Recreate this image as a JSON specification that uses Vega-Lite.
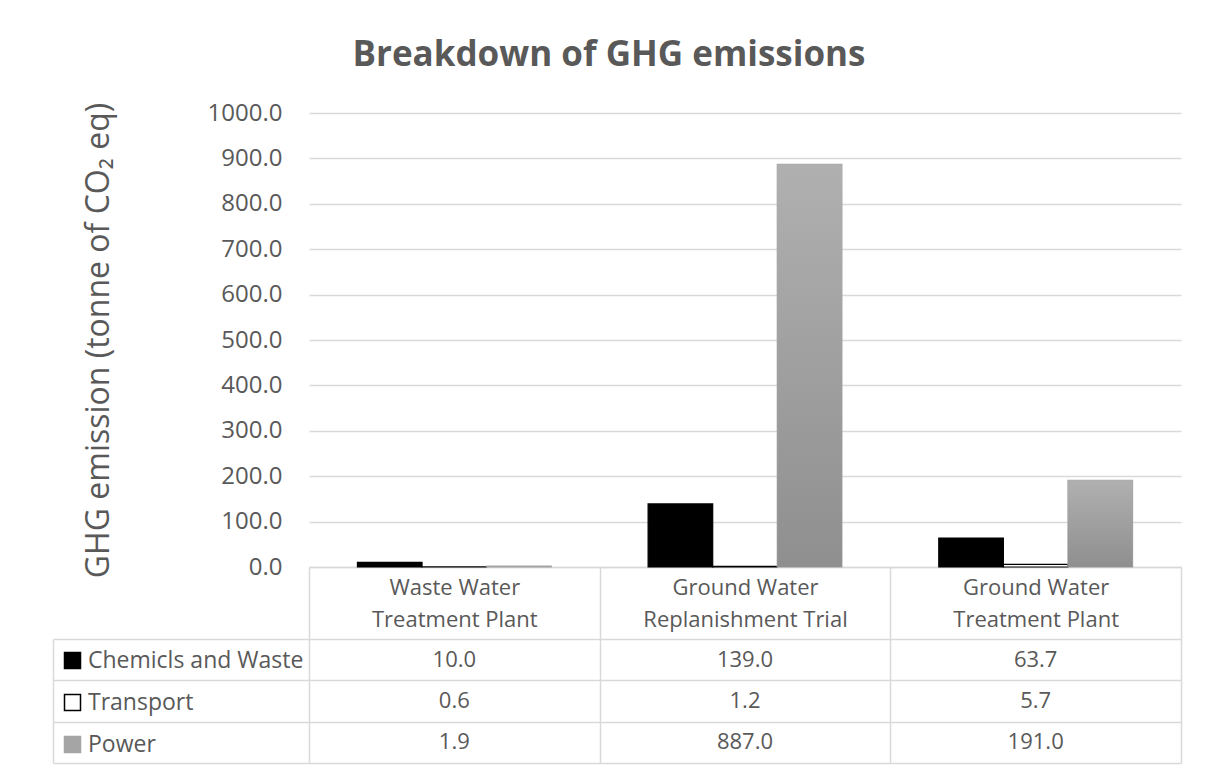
{
  "$schema": "https://vega.github.io/schema/vega-lite/v6.json",
  "width": 872,
  "height": 454,
  "autosize": {"type": "none"},
  "padding": {"left": 309, "top": 113, "right": 28, "bottom": 205},
  "title": {
    "text": "Breakdown of GHG emissions",
    "fontSize": 35,
    "fontWeight": "bold",
    "color": "#595959",
    "font": "Open Sans",
    "anchor": "middle",
    "frame": "group",
    "dx": -136,
    "offset": 28
  },
  "config": {
    "font": "Open Sans",
    "view": {"stroke": null},
    "axis": {"labelColor": "#595959", "titleColor": "#595959", "labelFont": "Open Sans", "titleFont": "Open Sans"},
    "legend": {"labelFont": "Open Sans"}
  },
  "data": {
    "values": [
      {"category": "Waste Water Treatment Plant", "series": "Chemicls and Waste", "value": 10.0},
      {"category": "Waste Water Treatment Plant", "series": "Transport", "value": 0.6},
      {"category": "Waste Water Treatment Plant", "series": "Power", "value": 1.9},
      {"category": "Ground Water Replanishment Trial", "series": "Chemicls and Waste", "value": 139.0},
      {"category": "Ground Water Replanishment Trial", "series": "Transport", "value": 1.2},
      {"category": "Ground Water Replanishment Trial", "series": "Power", "value": 887.0},
      {"category": "Ground Water Treatment Plant", "series": "Chemicls and Waste", "value": 63.7},
      {"category": "Ground Water Treatment Plant", "series": "Transport", "value": 5.7},
      {"category": "Ground Water Treatment Plant", "series": "Power", "value": 191.0}
    ]
  },
  "resolve": {"scale": {"y": "independent"}, "axis": {"y": "independent"}},
  "layer": [
    {
      "mark": {"type": "bar", "strokeWidth": 1.2},
      "encoding": {
        "x": {
          "field": "category",
          "type": "nominal",
          "sort": ["Waste Water Treatment Plant", "Ground Water Replanishment Trial", "Ground Water Treatment Plant"],
          "scale": {"paddingInner": 0, "paddingOuter": 0},
          "axis": {
            "title": null,
            "orient": "bottom",
            "domain": true,
            "domainColor": "#D9D9D9",
            "domainWidth": 1.5,
            "ticks": true,
            "tickBand": "extent",
            "tickSize": 196,
            "tickColor": "#D9D9D9",
            "tickWidth": 1.5,
            "grid": false,
            "labelExpr": "[join(slice(split(datum.label, ' '), 0, 2), ' '), join(slice(split(datum.label, ' '), 2), ' ')]",
            "labelFontSize": 22,
            "labelLineHeight": 32,
            "labelBaseline": "middle",
            "labelAlign": "center",
            "labelPadding": -176,
            "labelAngle": 0,
            "labelOverlap": false,
            "labelBound": false,
            "labelLimit": 400
          }
        },
        "xOffset": {
          "field": "series",
          "type": "nominal",
          "sort": ["Chemicls and Waste", "Transport", "Power"],
          "scale": {"paddingInner": 0, "paddingOuter": 0.75}
        },
        "y": {
          "field": "value",
          "type": "quantitative",
          "scale": {"domain": [0, 1000], "nice": false},
          "axis": {
            "title": "GHG emission (tonne of CO₂ eq)",
            "titleFontSize": 32,
            "titleFontWeight": "normal",
            "titlePadding": 92,
            "values": [0, 100, 200, 300, 400, 500, 600, 700, 800, 900, 1000],
            "format": ".1f",
            "labelFontSize": 24,
            "labelPadding": 27,
            "ticks": false,
            "domain": false,
            "grid": true,
            "gridColor": "#D9D9D9",
            "gridWidth": 1.5
          }
        },
        "fill": {
          "field": "series",
          "type": "nominal",
          "sort": ["Chemicls and Waste", "Transport", "Power"],
          "scale": {"domain": ["Chemicls and Waste", "Transport", "Power"], "range": ["#000000", "#FFFFFF", "#A5A5A5"]},
          "legend": {
            "title": null,
            "orient": "none",
            "legendX": -248,
            "legendY": 536,
            "direction": "vertical",
            "symbolType": "square",
            "symbolSize": 256,
            "symbolStrokeWidth": 1.5,
            "labelFontSize": 23,
            "labelColor": "#595959",
            "labelOffset": 4,
            "labelLimit": 400,
            "rowPadding": 18,
            "padding": 0
          }
        },
        "stroke": {
          "field": "series",
          "type": "nominal",
          "sort": ["Chemicls and Waste", "Transport", "Power"],
          "scale": {"domain": ["Chemicls and Waste", "Transport", "Power"], "range": ["#000000", "#000000", "#A5A5A5"]},
          "legend": {
            "title": null,
            "orient": "none",
            "legendX": -248,
            "legendY": 536,
            "direction": "vertical",
            "symbolType": "square",
            "symbolSize": 256,
            "symbolStrokeWidth": 1.5,
            "labelFontSize": 23,
            "labelColor": "#595959",
            "labelOffset": 4,
            "labelLimit": 400,
            "rowPadding": 18,
            "padding": 0
          }
        }
      }
    },
    {
      "transform": [{"filter": "datum.series === 'Power'"}],
      "mark": {
        "type": "bar",
        "color": {
          "gradient": "linear",
          "x1": 0, "y1": 0, "x2": 0, "y2": 1,
          "stops": [{"offset": 0, "color": "#B0B0B0"}, {"offset": 1, "color": "#8F8F8F"}]
        }
      },
      "encoding": {
        "x": {"field": "category", "type": "nominal", "sort": ["Waste Water Treatment Plant", "Ground Water Replanishment Trial", "Ground Water Treatment Plant"]},
        "xOffset": {"field": "series", "type": "nominal", "sort": ["Chemicls and Waste", "Transport", "Power"]},
        "y": {"field": "value", "type": "quantitative", "scale": {"domain": [0, 1000], "nice": false}, "axis": null}
      }
    },
    {
      "mark": {"type": "text", "fontSize": 22, "color": "#595959", "font": "Open Sans"},
      "encoding": {
        "x": {"field": "category", "type": "nominal", "sort": ["Waste Water Treatment Plant", "Ground Water Replanishment Trial", "Ground Water Treatment Plant"]},
        "y": {
          "field": "series",
          "type": "nominal",
          "sort": ["Chemicls and Waste", "Transport", "Power"],
          "scale": {"type": "band", "range": [526, 650], "paddingInner": 0, "paddingOuter": 0},
          "axis": {
            "title": null,
            "orient": "left",
            "offset": 256,
            "labels": false,
            "ticks": true,
            "tickBand": "extent",
            "tickSize": -256,
            "tickColor": "#D9D9D9",
            "tickWidth": 1.5,
            "domain": true,
            "domainColor": "#D9D9D9",
            "domainWidth": 1.5,
            "grid": true,
            "gridColor": "#D9D9D9",
            "gridWidth": 1.5
          }
        },
        "text": {"field": "value", "type": "quantitative", "format": ".1f"}
      }
    }
  ]
}
